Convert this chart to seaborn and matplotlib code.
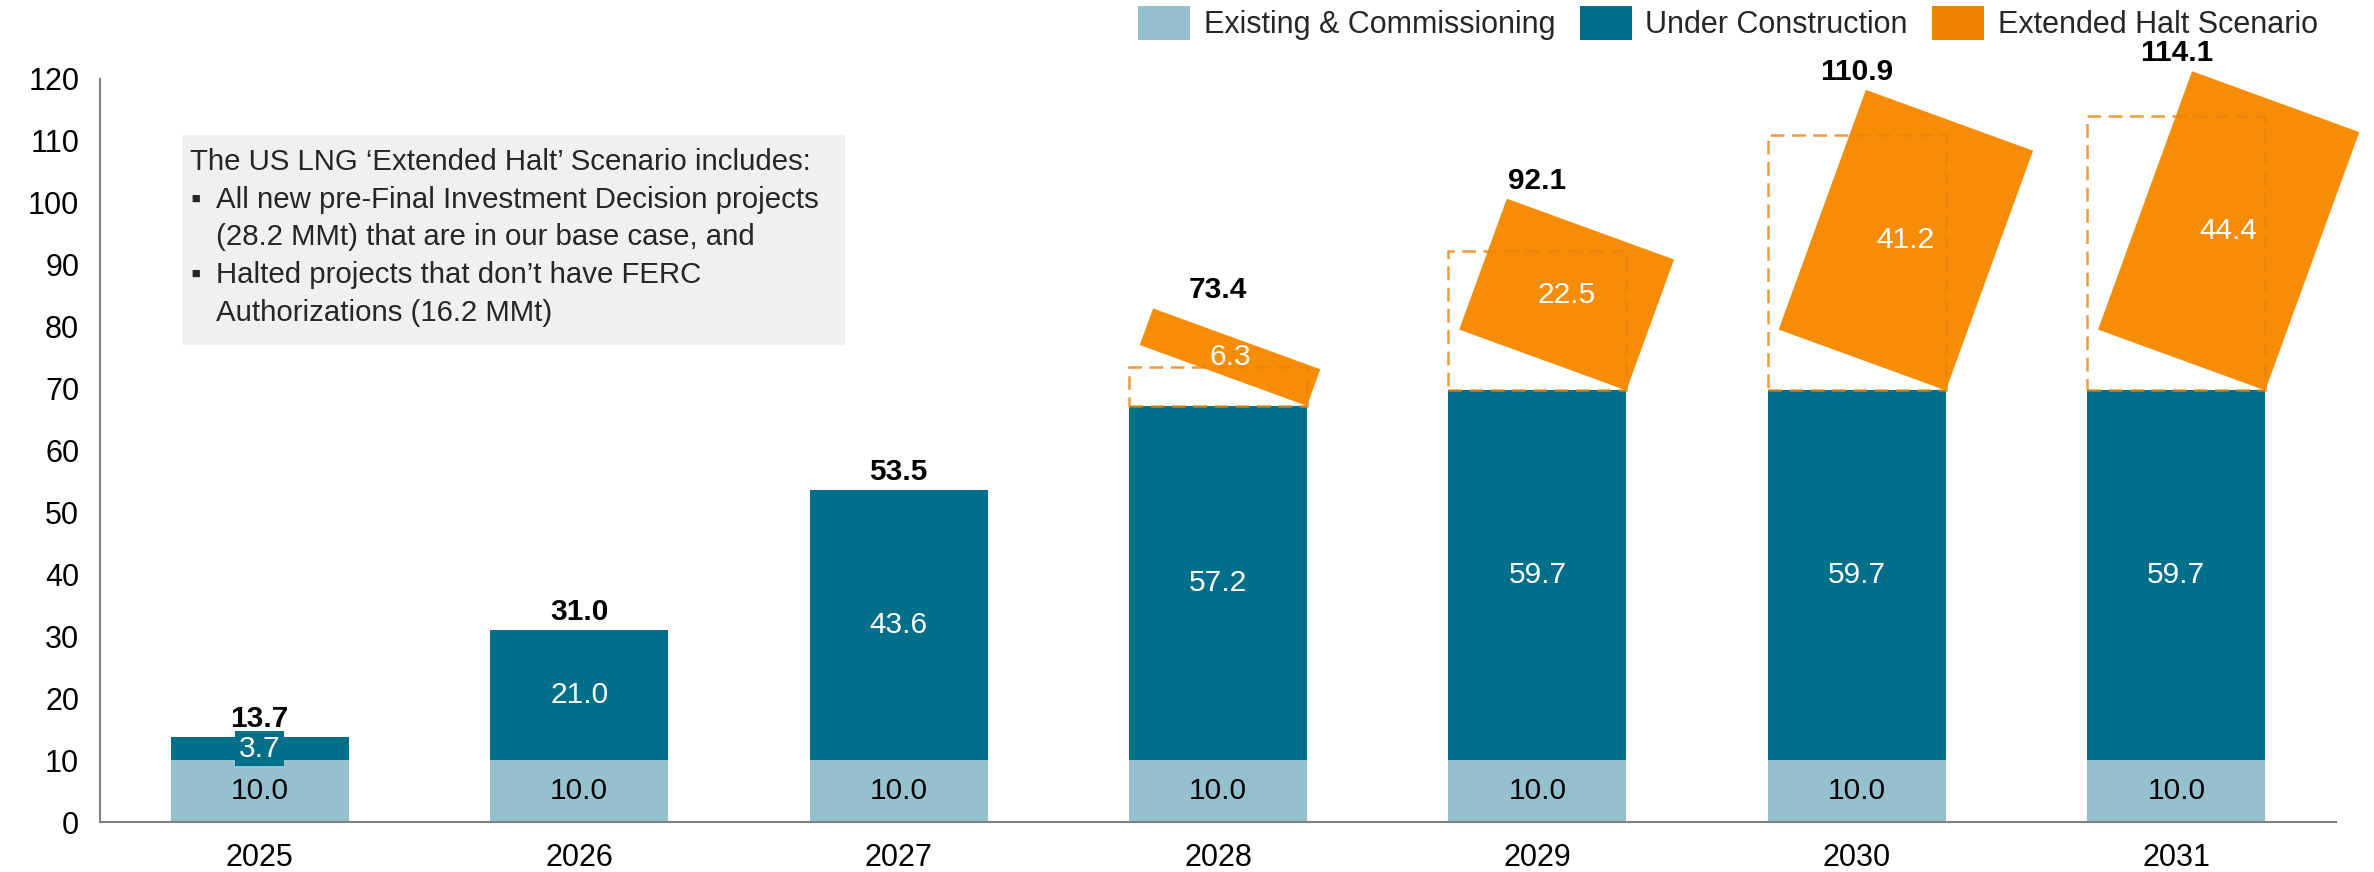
import numpy as np
import pandas as pd
import matplotlib
matplotlib.use("Agg")
import matplotlib.pyplot as plt
import seaborn as sns
from matplotlib.transforms import Affine2D
from matplotlib.patches import Rectangle, Patch

# ---------------- data ----------------
years = ["2025", "2026", "2027", "2028", "2029", "2030", "2031"]
existing = [10.0, 10.0, 10.0, 10.0, 10.0, 10.0, 10.0]
under_construction = [3.7, 21.0, 43.6, 57.2, 59.7, 59.7, 59.7]
extended_halt = [0.0, 0.0, 0.0, 6.3, 22.5, 41.2, 44.4]
totals = [13.7, 31.0, 53.5, 73.4, 92.1, 110.9, 114.1]
legend_labels = ["Existing & Commissioning", "Under Construction", "Extended Halt Scenario"]
note_title = "The US LNG \u2018Extended Halt\u2019 Scenario includes:"
note_bullets = [
    ["All new pre-Final Investment Decision projects", "(28.2 MMt) that are in our base case, and"],
    ["Halted projects that don\u2019t have FERC", "Authorizations (16.2 MMt)"],
]

# ---------------- style ----------------
C_EXIST = "#94C1CD"
C_UC = "#006F89"
C_HALT = "#F78C06"
C_HALT_EDGE = "#E8840A"
C_HALT_LEG = "#EE8200"
C_SPINE = "#808080"
BAR_W = 0.557
TILT = -20  # degrees (clockwise about the bar's bottom-right corner)

sns.set_theme(style="white")
plt.rcParams["font.family"] = ["Liberation Sans", "DejaVu Sans"]

W, H = 2374, 872
fig = plt.figure(figsize=(W / 100, H / 100), dpi=100)
ax = fig.add_axes([100 / W, 50 / H, (2336 - 100) / W, (822 - 79) / H])

df = pd.DataFrame({"year": years, "existing": existing, "uc": under_construction,
                   "halt": extended_halt, "total": totals})
df["uc_top"] = df["existing"] + df["uc"]

sns.barplot(data=df, x="year", y="uc_top", color=C_UC, saturation=1, width=BAR_W,
            errorbar=None, ax=ax, linewidth=0)
sns.barplot(data=df, x="year", y="existing", color=C_EXIST, saturation=1, width=BAR_W,
            errorbar=None, ax=ax, linewidth=0)

ax.set_xlim(-0.5, 6.5)
ax.set_ylim(0, 120)
ax.set_yticks(np.arange(0, 121, 10))
ax.set_xlabel("")
ax.set_ylabel("")
for s in ["top", "right"]:
    ax.spines[s].set_visible(False)
for s in ["left", "bottom"]:
    ax.spines[s].set_color(C_SPINE)
    ax.spines[s].set_linewidth(1.5)
ax.tick_params(axis="y", length=0, pad=15, labelsize=22, labelcolor="black")
ax.tick_params(axis="x", length=0, pad=15, labelsize=22, labelcolor="black")

xs = np.arange(len(years))
LBL = 21.5

# labels on existing / under construction segments
for i in xs:
    ax.text(i, df.existing[i] / 2, f"{df.existing[i]:.1f}", ha="center", va="center",
            fontsize=LBL, color="black")
    kw = {}
    if df.uc[i] < 6:
        kw["bbox"] = dict(boxstyle="square,pad=0.12", facecolor=C_UC, edgecolor="none")
    ax.text(i, df.existing[i] + df.uc[i] / 2, f"{df.uc[i]:.1f}", ha="center", va="center",
            fontsize=LBL, color="white", zorder=5, **kw)

# extended-halt: dashed outline + tilted block
fig.canvas.draw()
halt_mask = df.halt > 0
hx = xs[halt_mask]
rects = ax.bar(hx, df.halt[halt_mask], width=BAR_W, bottom=df.uc_top[halt_mask],
               color=C_HALT, linewidth=0, zorder=3)
outlines = ax.bar(hx, df.halt[halt_mask], width=BAR_W, bottom=df.uc_top[halt_mask],
                  fill=False, edgecolor=C_HALT_EDGE, linewidth=1.8, linestyle=(0, (5.5, 3)),
                  alpha=0.8, zorder=4)

top_y = {}
for i in xs:
    top_y[i] = df.uc_top[i]
for r, i in zip(rects, hx):
    px, py = ax.transData.transform((i + BAR_W / 2, df.uc_top[i]))
    rot = Affine2D().rotate_deg_around(px, py, TILT)
    tr = ax.transData + rot
    r.set_transform(tr)
    r.set_clip_on(False)
    ax.text(i, df.uc_top[i] + df.halt[i] / 2, f"{df.halt[i]:.1f}", ha="center", va="center",
            fontsize=LBL, color="white", transform=tr, zorder=6, clip_on=False)
    x0, x1 = i - BAR_W / 2, i + BAR_W / 2
    y0, y1 = df.uc_top[i], df.uc_top[i] + df.halt[i]
    corners = tr.transform([(x0, y0), (x1, y0), (x1, y1), (x0, y1)])
    ymax_disp = corners[:, 1].max()
    top_y[i] = ax.transData.inverted().transform((px, ymax_disp))[1]

for i in xs:
    ax.annotate(f"{df.total[i]:.1f}", (i, top_y[i]), xytext=(0, 3), textcoords="offset points",
                ha="center", va="bottom", fontsize=LBL, fontweight="bold", color="black",
                annotation_clip=False, zorder=7)

# note box
bx0, bx1, by_top, by_bot = 182, 845, 135, 345
fig.patches.append(Rectangle((bx0 / W, 1 - by_bot / H), (bx1 - bx0) / W, (by_bot - by_top) / H,
                             transform=fig.transFigure, facecolor="#F0F0F0", edgecolor="none",
                             zorder=0))
line_ys = [162, 200, 237, 275, 313]
NOTE = 21.2
fig.text(190 / W, 1 - line_ys[0] / H, note_title, fontsize=NOTE, va="center", ha="left")
k = 1
for bullet in note_bullets:
    for j, line in enumerate(bullet):
        if j == 0:
            fig.text(190 / W, 1 - line_ys[k] / H, "\u25AA", fontsize=NOTE, va="center", ha="left")
        fig.text(216 / W, 1 - line_ys[k] / H, line, fontsize=NOTE, va="center", ha="left")
        k += 1

# legend
handles = [Patch(facecolor=C_EXIST, edgecolor="none"),
           Patch(facecolor=C_UC, edgecolor="none"),
           Patch(facecolor=C_HALT_LEG, edgecolor="none")]
fig.legend(handles, legend_labels, loc="upper right", bbox_to_anchor=(2318 / W, 1 - 6 / H),
           ncol=3, frameon=False, fontsize=22, handlelength=1.7, handleheight=1.33,
           handletextpad=0.45, columnspacing=0.8, borderpad=0, borderaxespad=0)

fig.savefig("out.png", dpi=100)
